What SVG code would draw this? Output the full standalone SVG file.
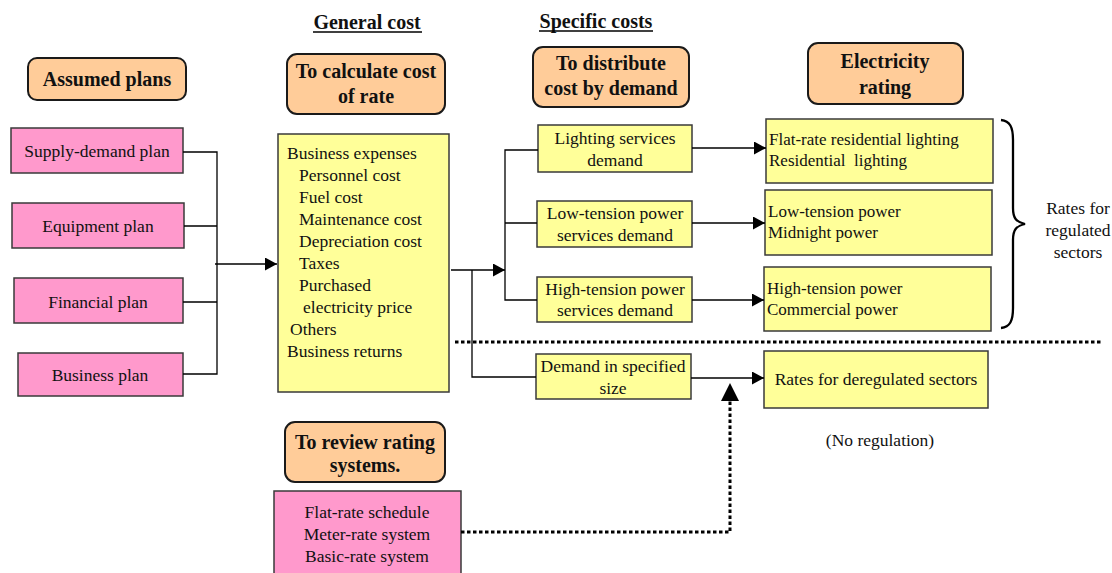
<svg xmlns="http://www.w3.org/2000/svg" width="1112" height="573" viewBox="0 0 1112 573">
  <style>
    text { font-family: "Liberation Serif", "Times New Roman", serif; fill: #111; }
    .hd { font-size: 20px; font-weight: bold; text-anchor: middle; }
    .t { font-size: 17.5px; }
    .r { font-size: 17px; }
    .c { text-anchor: middle; }
    .pre { white-space: pre; }
    .orange { fill: #FFCC99; stroke: #1a1a1a; stroke-width: 2; }
    .pink { fill: #FF99CC; stroke: #3a3a3a; stroke-width: 1.5; }
    .yellow { fill: #FFFF99; stroke: #3a3a3a; stroke-width: 1.5; }
    .ln { fill: none; stroke: #000; stroke-width: 1.3; }
    .dot { fill: none; stroke: #000; stroke-width: 3; stroke-dasharray: 3.5 2.5; }
  </style>
  <defs>
    <marker id="arr" markerWidth="12" markerHeight="13" refX="12" refY="6.5" orient="auto" markerUnits="userSpaceOnUse">
      <path d="M0,0 L12,6.5 L0,13 Z" fill="#000"/>
    </marker>
  </defs>
  <rect width="1112" height="573" fill="#fff"/>

  <!-- column titles -->
  <g id="title-general">
    <text class="hd" x="367" y="29" font-size="18">General cost</text>
    <line x1="313" y1="32" x2="422" y2="32" stroke="#000" stroke-width="1.3"/>
  </g>
  <g id="title-specific">
    <text class="hd" x="596" y="28">Specific costs</text>
    <line x1="539" y1="31" x2="653" y2="31" stroke="#000" stroke-width="1.3"/>
  </g>

  <!-- stage headers -->
  <g id="hdr-assumed">
    <rect class="orange" x="28" y="58" width="158" height="42" rx="9"/>
    <text class="hd" x="107" y="86">Assumed plans</text>
  </g>
  <g id="hdr-calculate">
    <rect class="orange" x="287" y="54" width="158" height="60" rx="10"/>
    <text class="hd" x="366" y="78">To calculate cost</text>
    <text class="hd" x="366" y="103">of rate</text>
  </g>
  <g id="hdr-distribute">
    <rect class="orange" x="533" y="47" width="156" height="60" rx="10"/>
    <text class="hd" x="611" y="70">To distribute</text>
    <text class="hd" x="611" y="95">cost by demand</text>
  </g>
  <g id="hdr-rating">
    <rect class="orange" x="808" y="43" width="155" height="61" rx="10"/>
    <text class="hd" x="885" y="68">Electricity</text>
    <text class="hd" x="885" y="94">rating</text>
  </g>
  <g id="hdr-review">
    <rect class="orange" x="285" y="422" width="160" height="60" rx="10"/>
    <text class="hd" x="365" y="449">To review rating</text>
    <text class="hd" x="365" y="472">systems.</text>
  </g>

  <!-- assumed plans -->
  <g id="plan-supply">
    <rect class="pink" x="11" y="128" width="172" height="45"/>
    <text class="t c" x="97" y="157">Supply-demand plan</text>
  </g>
  <g id="plan-equipment">
    <rect class="pink" x="12" y="203" width="172" height="45"/>
    <text class="t c" x="98" y="232">Equipment plan</text>
  </g>
  <g id="plan-financial">
    <rect class="pink" x="14" y="278" width="169" height="45"/>
    <text class="t c" x="98" y="308">Financial plan</text>
  </g>
  <g id="plan-business">
    <rect class="pink" x="18" y="353" width="165" height="43"/>
    <text class="t c" x="100" y="381">Business plan</text>
  </g>

  <!-- cost items -->
  <g id="cost-items">
    <rect class="yellow" x="278" y="134" width="171" height="258"/>
    <text class="t" x="287" y="159">Business expenses</text>
    <text class="t" x="299" y="181">Personnel cost</text>
    <text class="t" x="299" y="203">Fuel cost</text>
    <text class="t" x="299" y="225">Maintenance cost</text>
    <text class="t" x="299" y="247">Depreciation cost</text>
    <text class="t" x="299" y="269">Taxes</text>
    <text class="t" x="299" y="291">Purchased</text>
    <text class="t" x="303" y="313">electricity price</text>
    <text class="t" x="290" y="335">Others</text>
    <text class="t" x="287" y="357">Business returns</text>
  </g>

  <!-- demand categories -->
  <g id="dem-lighting">
    <rect class="yellow" x="538" y="125" width="154" height="47"/>
    <text class="t c" x="615" y="144">Lighting services</text>
    <text class="t c" x="615" y="166">demand</text>
  </g>
  <g id="dem-low">
    <rect class="yellow" x="537" y="201" width="155" height="46"/>
    <text class="t c" x="615" y="219">Low-tension power</text>
    <text class="t c" x="615" y="241">services demand</text>
  </g>
  <g id="dem-high">
    <rect class="yellow" x="537" y="277" width="155" height="45"/>
    <text class="t c" x="615" y="295">High-tension power</text>
    <text class="t c" x="615" y="316">services demand</text>
  </g>
  <g id="dem-specified">
    <rect class="yellow" x="536" y="354" width="155" height="45"/>
    <text class="t c" x="613" y="372">Demand in specified</text>
    <text class="t c" x="613" y="394">size</text>
  </g>

  <!-- rates -->
  <g id="rate-lighting">
    <rect class="yellow" x="766" y="119" width="227" height="64"/>
    <text class="r" x="769" y="145">Flat-rate residential lighting</text>
    <text class="r pre" x="769" y="166">Residential  lighting</text>
  </g>
  <g id="rate-low">
    <rect class="yellow" x="765" y="190" width="227" height="65"/>
    <text class="r" x="768" y="217">Low-tension power</text>
    <text class="r" x="768" y="238">Midnight power</text>
  </g>
  <g id="rate-high">
    <rect class="yellow" x="764" y="267" width="227" height="64"/>
    <text class="r" x="767" y="294">High-tension power</text>
    <text class="r" x="767" y="315">Commercial power</text>
  </g>
  <g id="rate-deregulated">
    <rect class="yellow" x="764" y="351" width="224" height="57"/>
    <text class="t c" x="876" y="385">Rates for deregulated sectors</text>
  </g>

  <!-- rating systems -->
  <g id="rating-systems">
    <rect class="pink" x="274" y="491" width="187" height="90"/>
    <text class="t c" x="367" y="518">Flat-rate schedule</text>
    <text class="t c" x="367" y="540">Meter-rate system</text>
    <text class="t c" x="367" y="562">Basic-rate system</text>
  </g>

  <!-- regulated group -->
  <g id="regulated">
    <path d="M1001,120 C1010,121 1013,127 1013,140 L1013,208 C1013,218 1016,222 1025,224 C1016,226 1013,230 1013,240 L1013,308 C1013,321 1010,327 1001,328" fill="none" stroke="#000" stroke-width="2.3"/>
    <text class="t c" x="1078" y="214">Rates for</text>
    <text class="t c" x="1078" y="236">regulated</text>
    <text class="t c" x="1078" y="258">sectors</text>
  </g>
  <g id="no-regulation">
    <text class="t c" x="880" y="446">(No regulation)</text>
  </g>

  <!-- connectors -->
  <g id="connectors">
    <path class="ln" d="M183,152 H217 V374 H183 M184,226 H217 M183,302 H217"/>
    <line class="ln" x1="215" y1="264" x2="277" y2="264" marker-end="url(#arr)"/>
    <line class="ln" x1="451" y1="270" x2="505" y2="270" marker-end="url(#arr)"/>
    <path class="ln" d="M538,150 H505 V300 H537 M505,223 H537"/>
    <path class="ln" d="M472,270 V377 H536"/>
    <line class="ln" x1="692" y1="148" x2="766" y2="148" marker-end="url(#arr)"/>
    <line class="ln" x1="692" y1="223" x2="765" y2="223" marker-end="url(#arr)"/>
    <line class="ln" x1="692" y1="300" x2="764" y2="300" marker-end="url(#arr)"/>
    <line class="ln" x1="691" y1="378" x2="764" y2="378" marker-end="url(#arr)"/>
    <line class="dot" x1="455" y1="342" x2="1102" y2="342"/>
    <path class="dot" d="M461,532 H730 V400"/>
    <path d="M721,401 L730,383 L739,401 Z" fill="#000"/>
  </g>
</svg>
